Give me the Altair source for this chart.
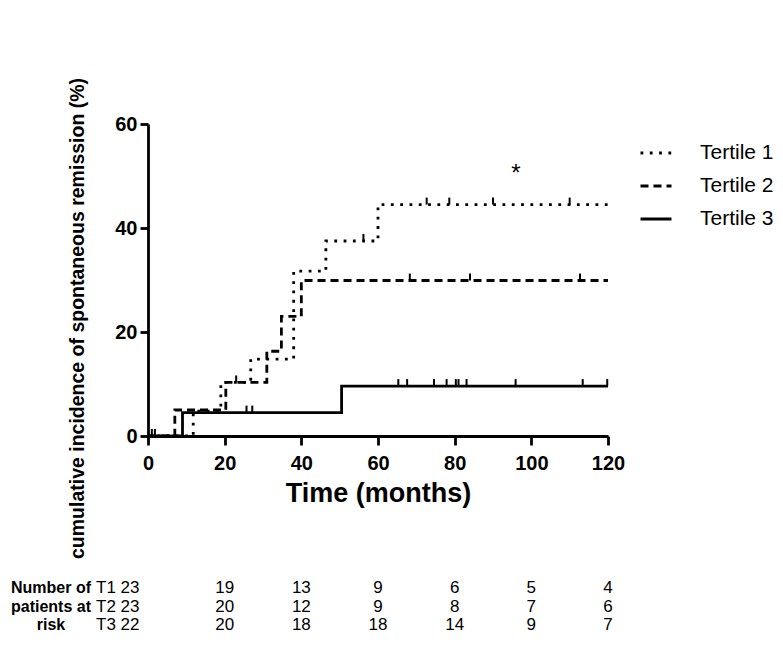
import altair as alt
import numpy as np
import pandas as pd

# ---- data ----
series = ["Tertile 1", "Tertile 2", "Tertile 3"]

t1_times = [0, 11.8, 19.0, 26.8, 38.0, 46.4, 60.0, 120]
t1_vals = [0, 4.8, 10.3, 14.8, 31.7, 37.5, 44.5, 44.5]
t2_times = [0, 7.0, 20.3, 31.0, 34.8, 40.0, 120]
t2_vals = [0, 5.0, 10.3, 16.3, 23.0, 29.9, 29.9]
t3_times = [0, 9.0, 50.5, 120]
t3_vals = [0, 4.5, 9.6, 9.6]

t1_cens = [1.8, 56.2, 72.7, 78.6, 90.0, 110.0]
t2_cens = [1.0, 23.0, 68.3, 84.0, 112.7]
t3_cens = [25.7, 27.2, 65.3, 67.6, 74.6, 77.9, 80.3, 81.0, 83.1, 95.9, 113.4, 119.8]

x_ticks = [0, 20, 40, 60, 80, 100, 120]
y_ticks = [0, 20, 40, 60]

risk_times = [0, 20, 40, 60, 80, 100, 120]
risk_t1 = [23, 19, 13, 9, 6, 5, 4]
risk_t2 = [23, 20, 12, 9, 8, 7, 6]
risk_t3 = [22, 20, 18, 18, 14, 9, 7]
risk_tags = ["T1", "T2", "T3"]
risk_row_labels = ["Number of", "patients at", "risk"]

star_time = [96]
star_value = [49]
star_text = ["*"]

# ---- tables ----
curves = []
for name, ts, vs in zip(series, [t1_times, t2_times, t3_times], [t1_vals, t2_vals, t3_vals]):
    for t, v in zip(ts, vs):
        curves.append({"series": name, "time": t, "value": v})
curves = pd.DataFrame(curves)

cens = []
for name, ts, vs, cs in zip(series, [t1_times, t2_times, t3_times],
                            [t1_vals, t2_vals, t3_vals], [t1_cens, t2_cens, t3_cens]):
    ts_a = np.array(ts)
    for c in cs:
        idx = np.searchsorted(ts_a, c, side="right") - 1
        cens.append({"series": name, "time": c, "value": vs[idx]})
cens = pd.DataFrame(cens)

risk = []
for tag, vals in zip(risk_tags, [risk_t1, risk_t2, risk_t3]):
    for t, n in zip(risk_times, vals):
        risk.append({"tag": tag, "time": t, "n": n})
risk = pd.DataFrame(risk)

star = pd.DataFrame({"time": star_time, "value": star_value, "txt": star_text})

FONT = "Liberation Sans, Arial, Helvetica, sans-serif"
NARROW = "Liberation Sans Narrow, Arial Narrow, Liberation Sans, Arial, sans-serif"

x_enc = alt.X(
    "time:Q",
    scale=alt.Scale(domain=[0, 120], nice=False, zero=False),
    axis=alt.Axis(values=x_ticks, tickSize=9, labelPadding=8.5, labelFlush=False,
                  labelOverlap=False, title="Time (months)", titleFontSize=27,
                  titleY=65, titleBaseline="alphabetic", titleAlign="center"),
)
y_enc = alt.Y(
    "value:Q",
    scale=alt.Scale(domain=[0, 60], nice=False),
    axis=alt.Axis(values=y_ticks, tickSize=8, labelPadding=3, labelFlush=False,
                  title="cumulative incidence of spontaneous remission (%)",
                  titleFontSize=19.5, titleX=-65, titleY=194, titleAngle=270,
                  titleAlign="center", titleBaseline="alphabetic"),
)

lines = alt.Chart(curves).mark_line(
    interpolate="step-after", color="black", strokeWidth=2.8, strokeCap="butt"
).encode(
    x=x_enc,
    y=y_enc,
    strokeDash=alt.StrokeDash(
        "series:N",
        scale=alt.Scale(domain=series, range=[[2.8, 6.5], [8, 5], [1, 0]]),
        legend=alt.Legend(
            title=None, orient="none", legendX=491, legendY=12,
            symbolType="stroke", symbolSize=961, symbolStrokeWidth=2.8,
            symbolStrokeColor="black", labelFontSize=21, labelFont=FONT,
            labelColor="black", labelOffset=27, rowPadding=6, labelLimit=0,
        ),
    ),
    order="time:Q",
)

ticks = alt.Chart(cens).mark_tick(
    orient="vertical", color="black", opacity=1, thickness=2, size=7, yOffset=-3.5
).encode(x="time:Q", y="value:Q")

star_layer = alt.Chart(star).mark_text(
    fontSize=24, font=FONT, color="black", baseline="alphabetic", align="center"
).encode(x="time:Q", y="value:Q", text="txt:N")

row_y = [464, 483, 501]
layers = [lines, ticks, star_layer]
for i, tag in enumerate(risk_tags):
    sub = risk[risk["tag"] == tag]
    layers.append(
        alt.Chart(sub).transform_calculate(
            xpos="datum.time == 0 ? -4.7 : datum.time"
        ).mark_text(fontSize=17, font=NARROW, color="black", baseline="middle", align="center").encode(
            x="xpos:Q", y=alt.value(row_y[i]), text="n:Q"
        )
    )
    tag_df = pd.DataFrame({"tag": [tag]})
    layers.append(
        alt.Chart(tag_df).mark_text(fontSize=17, font=NARROW, color="black",
                                    baseline="middle", align="center").encode(
            x=alt.value(-42), y=alt.value(row_y[i]), text="tag:N"
        )
    )
    lab_df = pd.DataFrame({"lab": [risk_row_labels[i]]})
    layers.append(
        alt.Chart(lab_df).mark_text(fontSize=16, font=FONT, fontWeight="bold", color="black",
                                    baseline="middle", align="center").encode(
            x=alt.value(-97), y=alt.value(row_y[i]), text="lab:N"
        )
    )

chart = alt.layer(*layers).properties(
    width=460, height=312,
    background="white",
    autosize=alt.AutoSizeParams(type="none"),
    padding={"left": 140, "top": 116, "right": 167, "bottom": 203},
).configure_axis(
    domainColor="black", domainWidth=2.8, tickColor="black", tickWidth=2.8,
    labelColor="black", labelFont=FONT, labelFontWeight="bold", labelFontSize=20,
    titleFont=FONT, titleFontWeight="bold", titleColor="black", grid=False,
).configure_view(strokeWidth=0)

chart.save("out.html", embed_options={"renderer": "svg", "actions": False})
